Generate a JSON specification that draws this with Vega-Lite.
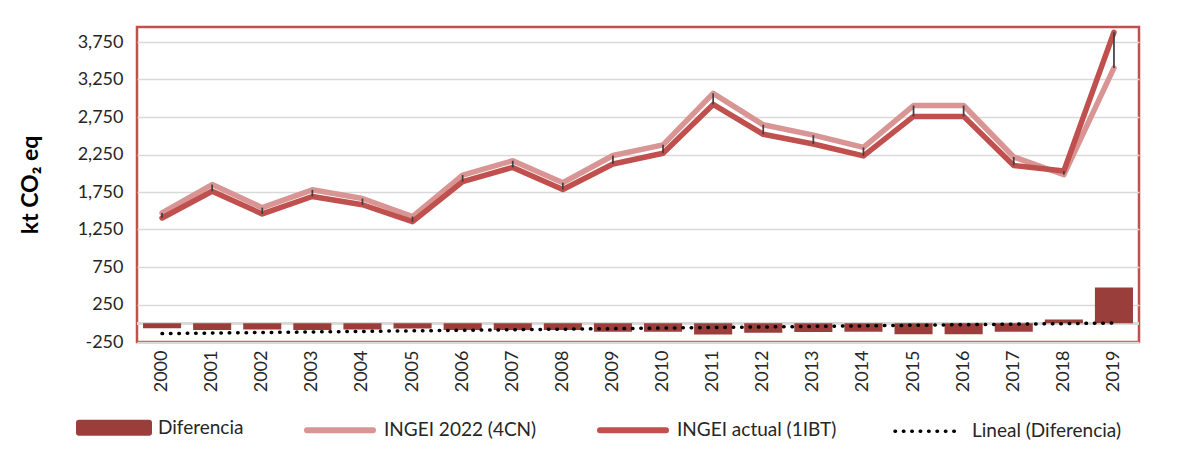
{
  "$schema": "https://vega.github.io/schema/vega-lite/v6.json",
  "width": 1002,
  "height": 315,
  "autosize": {"type": "none"},
  "padding": {"left": 137, "top": 27, "right": 38, "bottom": 114},
  "background": "white",
  "config": {
    "font": "Lato",
    "locale": {"number": {"decimal": ".", "thousands": ",", "grouping": [3], "currency": ["$", ""], "minus": "-"}},
    "view": {"stroke": "#C0504D", "strokeWidth": 2.5},
    "axis": {"labelFont": "Lato", "labelFontSize": 18, "labelColor": "#262626", "titleFont": "Lato"}
  },
  "data": {
    "values": [
      {"year": 2000, "actual": 1404, "ingei2022": 1471, "dif": -67},
      {"year": 2001, "actual": 1760, "ingei2022": 1849, "dif": -89},
      {"year": 2002, "actual": 1458, "ingei2022": 1541, "dif": -83},
      {"year": 2003, "actual": 1690, "ingei2022": 1779, "dif": -89},
      {"year": 2004, "actual": 1580, "ingei2022": 1663, "dif": -83},
      {"year": 2005, "actual": 1354, "ingei2022": 1423, "dif": -69},
      {"year": 2006, "actual": 1887, "ingei2022": 1976, "dif": -89},
      {"year": 2007, "actual": 2078, "ingei2022": 2167, "dif": -89},
      {"year": 2008, "actual": 1784, "ingei2022": 1873, "dif": -89},
      {"year": 2009, "actual": 2124, "ingei2022": 2237, "dif": -113},
      {"year": 2010, "actual": 2266, "ingei2022": 2379, "dif": -113},
      {"year": 2011, "actual": 2917, "ingei2022": 3066, "dif": -149},
      {"year": 2012, "actual": 2519, "ingei2022": 2646, "dif": -127},
      {"year": 2013, "actual": 2390, "ingei2022": 2508, "dif": -118},
      {"year": 2014, "actual": 2231, "ingei2022": 2344, "dif": -113},
      {"year": 2015, "actual": 2758, "ingei2022": 2903, "dif": -145},
      {"year": 2016, "actual": 2758, "ingei2022": 2903, "dif": -145},
      {"year": 2017, "actual": 2104, "ingei2022": 2217, "dif": -113},
      {"year": 2018, "actual": 2030, "ingei2022": 1980, "dif": 50},
      {"year": 2019, "actual": 3880, "ingei2022": 3404, "dif": 476}
    ]
  },
  "layer": [
    {
      "mark": {"type": "rule", "color": "#D9D9D9", "strokeWidth": 2},
      "encoding": {"y": {"datum": 0, "type": "quantitative"}}
    },
    {
      "mark": {"type": "bar"},
      "encoding": {
        "x": {"field": "year", "type": "ordinal", "scale": {"paddingInner": 0.24, "paddingOuter": 0.12},
              "axis": {"title": null, "labelAngle": -90, "labelPadding": 8, "ticks": false, "domain": false}},
        "y": {"field": "dif", "type": "quantitative", "title": "kt CO₂ eq",
              "scale": {"domain": [-250, 3950], "nice": false, "zero": false},
              "axis": {"values": [-250, 250, 750, 1250, 1750, 2250, 2750, 3250, 3750], "tickCount": 20, "format": ",.0f", "labelOverlap": false,
                       "grid": true, "gridColor": "#D9D9D9", "gridWidth": 1.5, "domain": false, "ticks": false,
                       "labelPadding": 14, "titlePadding": 35, "titleFontSize": 23, "titleFontWeight": "bold", "titleColor": "#000000",
                       "encode": {"grid": {"update": {"strokeOpacity": {"signal": "datum.value < 0 ? 0 : 1"}}}}}},
        "color": {"datum": "Diferencia", "type": "nominal",
                  "scale": {"domain": ["Diferencia", "INGEI 2022 (4CN)", "INGEI actual (1IBT)", "Lineal (Diferencia)"],
                            "range": ["#9A3E3B", "#D99594", "#C0504D", "#000000"]},
                  "legend": {"title": null, "orient": "none", "legendX": -58, "legendY": 391, "direction": "horizontal",
                             "symbolSize": 100,
                             "labelFont": "Lato", "labelFontSize": 19, "labelColor": "#262626", "labelOffset": 60, "columnPadding": 51,
                             "encode": {"symbols": {"update": {
                               "x": {"value": 35},
                               "shape": {"signal": "datum.value === 'Diferencia' ? 'M-7,-1H7V1H-7Z' : 'M-6.6,0H6.6'"},
                               "fill": {"signal": "datum.value === 'Diferencia' ? '#9A3E3B' : 'transparent'"},
                               "stroke": {"signal": "datum.value === 'Diferencia' ? 'transparent' : datum.value === 'INGEI 2022 (4CN)' ? '#D99594' : datum.value === 'INGEI actual (1IBT)' ? '#C0504D' : '#000000'"},
                               "strokeWidth": {"signal": "datum.value === 'Lineal (Diferencia)' ? 3.5 : 6"},
                               "strokeDash": {"signal": "datum.value === 'Lineal (Diferencia)' ? [0.5, 7.9] : [1, 0]"},
                               "strokeCap": {"value": "round"},
                               "opacity": {"value": 1}
                             }}}}}
      }
    },
    {
      "mark": {"type": "line", "strokeWidth": 5.5, "strokeJoin": "round", "strokeCap": "round"},
      "encoding": {
        "x": {"field": "year", "type": "ordinal"},
        "y": {"field": "ingei2022", "type": "quantitative", "title": "kt CO₂ eq"},
        "color": {"datum": "INGEI 2022 (4CN)", "type": "nominal"}
      }
    },
    {
      "mark": {"type": "line", "strokeWidth": 5.5, "strokeJoin": "round", "strokeCap": "round"},
      "encoding": {
        "x": {"field": "year", "type": "ordinal"},
        "y": {"field": "actual", "type": "quantitative", "title": "kt CO₂ eq"},
        "color": {"datum": "INGEI actual (1IBT)", "type": "nominal"}
      }
    },
    {
      "mark": {"type": "rule", "color": "#404040", "strokeWidth": 1.75},
      "encoding": {
        "x": {"field": "year", "type": "ordinal"},
        "y": {"field": "actual", "type": "quantitative", "title": "kt CO₂ eq"},
        "y2": {"field": "ingei2022"}
      }
    },
    {
      "transform": [{"regression": "dif", "on": "year"}],
      "mark": {"type": "line", "strokeWidth": 3.5, "strokeDash": [0.5, 7.9], "strokeCap": "round"},
      "encoding": {
        "x": {"field": "year", "type": "ordinal"},
        "y": {"field": "dif", "type": "quantitative", "title": "kt CO₂ eq"},
        "color": {"datum": "Lineal (Diferencia)", "type": "nominal"}
      }
    }
  ]
}
